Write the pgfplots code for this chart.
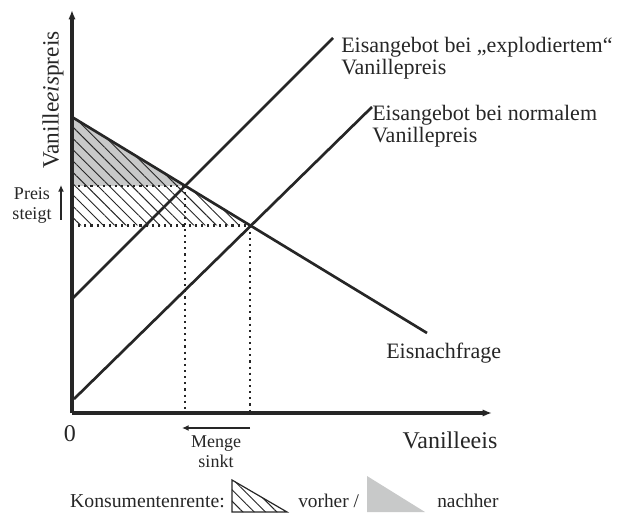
\documentclass[border=0pt]{standalone}
\usepackage{pgfplots}
\pgfplotsset{compat=1.18}
\usepackage{fontspec}
\setmainfont{Liberation Serif}
\usetikzlibrary{patterns.meta,arrows.meta}
\definecolor{ln}{rgb}{0.15,0.15,0.15}
\definecolor{gr}{RGB}{200,201,201}
\begin{document}
\begin{tikzpicture}
\begin{axis}[
  x=0.75pt, y=0.75pt,
  xmin=0, xmax=420, ymin=0, ymax=403,
  axis lines=left,
  axis line style={line width=2.5pt, ln, -{Latex[length=7pt,width=5.5pt]}},
  ticks=none,
  clip=false,
  axis on top,
]
% bounding box
\path (axis cs:-72,-105) rectangle (axis cs:546,413);
% gray area (after)
\addplot[draw=none, fill=gr] coordinates {(0,296) (113,227) (0,227)} -- cycle;
% hatched area (before)
\addplot[draw=none, pattern={Lines[angle=-45,distance=6pt,line width=0.7pt]}, pattern color=ln] coordinates {(0,296) (178,187.5) (0,187.5)} -- cycle;
% dotted guides
\addplot[ln, line width=1.6pt, dash pattern=on 1.6pt off 3pt] coordinates {(0,227) (113,227)};
\addplot[ln, line width=1.6pt, dash pattern=on 1.6pt off 3pt] coordinates {(113,227) (113,0)};
\addplot[ln, line width=1.6pt, dash pattern=on 1.6pt off 3pt] coordinates {(0,187.5) (178,187.5)};
\addplot[ln, line width=1.6pt, dash pattern=on 1.6pt off 3pt] coordinates {(178,187.5) (178,0)};
% demand
\addplot[ln, line width=2pt] coordinates {(0,296) (355,80)};
% supply exploded
\addplot[ln, line width=2pt] coordinates {(0,114) (261,375)};
% supply normal
\addplot[ln, line width=2pt] coordinates {(2,14) (300,306)};
% arrows
\addplot[ln, line width=1.8pt, -{Latex[length=5pt,width=4.5pt]}] coordinates {(-11,193) (-11,228)};
\addplot[ln, line width=1.8pt, -{Latex[length=5pt,width=4.5pt]}] coordinates {(178,-15) (110,-15)};
% legend shapes
\addplot[ln, line width=0.9pt, pattern={Lines[angle=-45,distance=6pt,line width=0.7pt]}, pattern color=ln] coordinates {(160,-67) (160,-99) (215,-99)} -- cycle;
\addplot[draw=none, fill=gr] coordinates {(295,-63) (295,-99) (353,-99)} -- cycle;
% texts
\node[rotate=90, font=\fontsize{17.5}{20}\selectfont, text=ln] at (axis cs:-19,313) {Vanille\textit{eis}preis};
\node[font=\fontsize{18}{20}\selectfont, text=ln] at (axis cs:378,-27) {Vanilleeis};
\node[font=\fontsize{18}{20}\selectfont, text=ln] at (axis cs:-2,-21) {0};
\node[align=center, font=\fontsize{13.5}{15}\selectfont, text=ln] at (axis cs:-40,208) {Preis\\steigt};
\node[align=center, font=\fontsize{13.5}{15}\selectfont, text=ln] at (axis cs:144,-39) {Menge\\sinkt};
\node[anchor=north west, align=left, inner sep=0pt, font=\fontsize{16.5}{16.5}\selectfont, text=ln] at (axis cs:269,376) {Eisangebot bei „explodiertem“\\Vanillepreis};
\node[anchor=north west, align=left, inner sep=0pt, font=\fontsize{16.5}{16.5}\selectfont, text=ln] at (axis cs:300,308) {Eisangebot bei normalem\\Vanillepreis};
\node[anchor=west, inner sep=0pt, font=\fontsize{16.5}{19}\selectfont, text=ln] at (axis cs:314,60) {Eisnachfrage};
\node[anchor=base east, inner sep=0pt, font=\fontsize{14.8}{16}\selectfont, text=ln] at (axis cs:153,-94) {Konsumentenrente:};
\node[anchor=base west, inner sep=0pt, font=\fontsize{14.5}{16}\selectfont, text=ln] at (axis cs:226,-94) {vorher /};
\node[anchor=base west, inner sep=0pt, font=\fontsize{14.5}{16}\selectfont, text=ln] at (axis cs:365,-94) {nachher};
\end{axis}
\end{tikzpicture}
\end{document}
